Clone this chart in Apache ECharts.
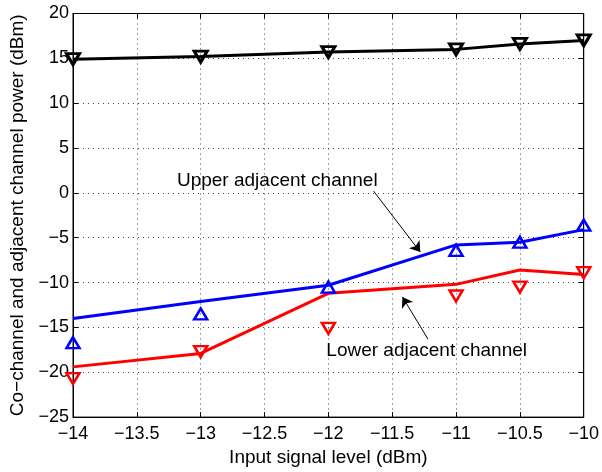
<!DOCTYPE html>
<html>
<head>
<meta charset="utf-8">
<script src="https://cdn.jsdelivr.net/npm/echarts@6/dist/echarts.min.js"></script>
<style>
  html, body { margin: 0; padding: 0; background: #fff; }
  #chart { width: 602px; height: 472px; }
</style>
</head>
<body>
<div id="chart"></div>
<script>
// Input signal levels (dBm)
const inputLevels = [-14, -13, -12, -11, -10.5, -10];
// Co-channel power (dBm)
const coChannel = [14.9, 15.2, 15.7, 16.0, 16.6, 17.0];
// Upper adjacent channel: model line and measured points
const upperModel = [-14.0, -12.1, -10.3, -5.8, -5.5, -4.1];
const upperMeasured = [-16.7, -13.5, -10.5, -6.4, -5.5, -3.6];
// Lower adjacent channel: model line and measured points
const lowerModel = [-19.4, -17.9, -11.2, -10.2, -8.6, -9.1];
const lowerMeasured = [-20.7, -17.7, -15.1, -11.5, -10.5, -8.9];

// Axis ranges and tick steps
const xRange = [-14, -10], xStep = 0.5;
const yRange = [-25, 20], yStep = 5;

// Annotation texts and their arrows [text pos, arrow tail, arrow head]
const notes = [
  { text: 'Upper adjacent channel', pos: [-12.4, 1.35], tail: [-11.646, 0.2], head: [-11.28, -6.6] },
  { text: 'Lower adjacent channel', pos: [-11.23, -17.65], tail: [-11.22, -16.3], head: [-11.42, -11.6] }
];

const FONT = '"Liberation Sans", Arial, Helvetica, sans-serif';
const fmt = v => String(v).replace('-', '\u2212');
const pair = (xs, ys) => xs.map((x, i) => [x, ys[i]]);

const dotted = { show: true, lineStyle: { color: '#444', width: 1, type: [1, 4] } };
const tickIn = { show: true, inside: true, length: 5, lineStyle: { color: '#000', width: 1 } };
const frameLine = { show: true, onZero: false, lineStyle: { color: '#000', width: 1 } };

const chart = echarts.init(document.getElementById('chart'), null, { renderer: 'canvas' });
chart.setOption({
  animation: false,
  backgroundColor: '#fff',
  grid: { left: 72, right: 10, top: 13.5, bottom: 49.5, show: true, borderColor: '#000', borderWidth: 1, backgroundColor: 'transparent' },
  xAxis: [{
    type: 'value', min: xRange[0], max: xRange[1], interval: xStep,
    name: 'Input signal level (dBm)', nameLocation: 'middle', nameGap: 27,
    nameTextStyle: { fontFamily: FONT, fontSize: 19, color: '#000' },
    axisLine: frameLine, axisTick: tickIn, splitLine: dotted,
    axisLabel: { formatter: fmt, fontFamily: FONT, fontSize: 18, color: '#000', margin: 8 }
  }, {
    type: 'value', position: 'top', min: xRange[0], max: xRange[1], interval: xStep,
    axisLine: frameLine, axisTick: tickIn,
    axisLabel: { show: false }, splitLine: { show: false }
  }],
  yAxis: [{
    type: 'value', min: yRange[0], max: yRange[1], interval: yStep,
    name: 'Co\u2212channel and adjacent channel power (dBm)', nameLocation: 'middle', nameGap: 46,
    nameTextStyle: { fontFamily: FONT, fontSize: 19, color: '#000' },
    axisLine: frameLine, axisTick: tickIn, splitLine: dotted,
    axisLabel: { formatter: fmt, fontFamily: FONT, fontSize: 18, color: '#000', margin: 4 }
  }, {
    type: 'value', position: 'right', min: yRange[0], max: yRange[1], interval: yStep,
    axisLine: frameLine, axisTick: tickIn,
    axisLabel: { show: false }, splitLine: { show: false }
  }],
  series: [
    {
      name: 'Co-channel', type: 'line', data: pair(inputLevels, coChannel),
      lineStyle: { color: '#000', width: 3 },
      symbol: 'triangle', symbolRotate: 180, symbolSize: [13, 11], showAllSymbol: true,
      itemStyle: { color: 'rgba(0,0,0,0)', borderColor: '#000', borderWidth: 3 },
      emphasis: { disabled: true }, z: 5
    },
    {
      name: 'Upper model', type: 'line', data: pair(inputLevels, upperModel),
      lineStyle: { color: '#0000ff', width: 3 }, showSymbol: false, symbol: 'none', z: 3
    },
    {
      name: 'Upper measured', type: 'scatter', data: pair(inputLevels, upperMeasured),
      symbol: 'triangle', symbolSize: [13, 11],
      itemStyle: { color: 'rgba(0,0,0,0)', borderColor: '#0000ff', borderWidth: 2.5, opacity: 1 }, z: 4
    },
    {
      name: 'Lower model', type: 'line', data: pair(inputLevels, lowerModel),
      lineStyle: { color: '#ff0000', width: 3 }, showSymbol: false, symbol: 'none', z: 3
    },
    {
      name: 'Lower measured', type: 'scatter', data: pair(inputLevels, lowerMeasured),
      symbol: 'triangle', symbolRotate: 180, symbolSize: [13, 11],
      itemStyle: { color: 'rgba(0,0,0,0)', borderColor: '#ff0000', borderWidth: 2.5, opacity: 1 }, z: 4
    },
    {
      name: 'Arrows', type: 'lines', coordinateSystem: 'cartesian2d',
      data: notes.map(n => ({ coords: [n.tail, n.head] })),
      symbol: ['none', 'arrow'], symbolSize: [0, 10],
      lineStyle: { color: '#000', width: 1, opacity: 1 }, z: 6
    },
    {
      name: 'Notes', type: 'scatter', symbolSize: 0,
      data: notes.map(n => ({ value: n.pos, label: { formatter: n.text } })),
      itemStyle: { opacity: 1 },
      label: { show: true, position: 'inside', fontFamily: FONT, fontSize: 19, color: '#000',
               textBorderWidth: 0, textBorderColor: 'transparent' },
      z: 7
    }
  ]
});
</script>
</body>
</html>
